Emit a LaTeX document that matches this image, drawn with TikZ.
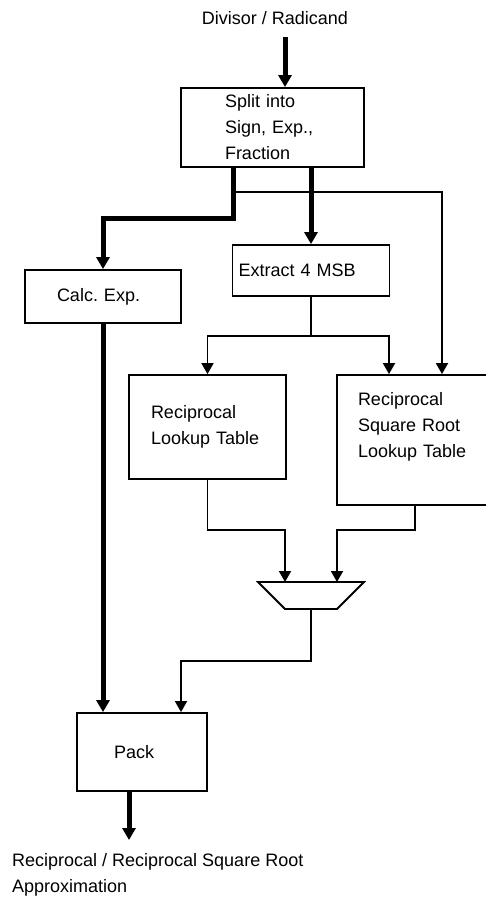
\documentclass[tikz,border=0pt]{standalone}
\usepackage{fontspec}
\setmainfont{Liberation Sans}
\usetikzlibrary{arrows.meta,calc}
\frenchspacing
\begin{document}
\begin{tikzpicture}[x=1pt,y=1pt,
  thinln/.style={line width=1.8pt},
  thickln/.style={line width=5pt},
  tip/.style={-{Triangle[width=12pt,length=11pt]}},
  bigtip/.style={-{Triangle[width=13pt,length=12pt]}},
  box/.style={draw, line width=1.8pt, align=left, inner ysep=0pt, font=\fontsize{18}{26}\selectfont},
  lbl/.style={inner sep=0pt, align=left, font=\fontsize{18}{26}\selectfont}]
\useasboundingbox (0,0) rectangle (486,-900);
\clip (0,0) rectangle (486,-900);
\fill[white] (0,0) rectangle (486,-900);

% texts and boxes
\node[lbl] (in) at (275,-18) {Divisor / Radicand};
\node[box, minimum height=79pt, inner xsep=44pt, text width=95pt] (split) at (272.5,-127.5) {Split into\\Sign, Exp.,\\Fraction};
\node[box, minimum height=51pt, inner xsep=6pt, text width=145pt] (extract) at (311,-270.5) {Extract 4 MSB};
\node[box, minimum height=53pt, inner xsep=32pt, text width=92pt] (calc) at (103,-296.5) {Calc. Exp.};
\node[box, minimum height=104pt, inner xsep=22pt, text width=113pt] (rlut) at (207.5,-427) {Reciprocal\\Lookup Table};
\node[box, minimum height=130pt, inner xsep=21pt, text width=114pt, text depth=82pt] (rsq) at (415,-440) {Reciprocal\\Square Root\\Lookup Table};
\node[box, minimum height=78pt, inner xsep=37pt, text width=56pt] (pack) at (142,-752) {Pack};
\node[lbl, anchor=north west] (out) at (12,-853) {Reciprocal / Reciprocal Square Root\\Approximation};

% multiplexer
\coordinate (mux) at (311,-595.5);
\draw[thinln] ($(mux)+(-53,13.5)$) -- ++(106,0) -- ++(-27,-27) -- ++(-52,0) -- cycle;
\coordinate (muxL) at ($(mux)+(-26,13.5)$);
\coordinate (muxR) at ($(mux)+(26,13.5)$);
\coordinate (muxO) at ($(mux)+(0,-13.5)$);

% junction points
\coordinate (inA) at (285,-37);
\coordinate (j1) at (233.5,-218.5);
\coordinate (j2) at (233.5,-192);
\coordinate (j3) at (311,-336);
\coordinate (j4) at (285,-530);
\coordinate (j5) at (337,-530);
\coordinate (j6) at (181,-661);
\coordinate (outA) at (129,-840);

% connectors
\draw[thickln, bigtip] (inA) -- (inA |- split.north);
\draw[thinln, tip] (j2) -| ([xshift=27pt]rsq.north);
\draw[thickln, bigtip] ([xshift=-39pt]split.south) -- (j1) -| (calc.north);
\draw[thickln, bigtip] ([xshift=38.5pt]split.south) -- (extract.north);
\draw[thinln] (extract.south) -- (j3);
\draw[thinln, tip] (j3) -| (rlut.north);
\draw[thinln, tip] (j3) -| ([xshift=-26pt]rsq.north);
\draw[thinln, tip] (rlut.south) |- (j4) -- (muxL);
\draw[thinln, tip] (rsq.south) |- (j5) -- (muxR);
\draw[thinln, tip] (muxO) |- (j6) -- ([xshift=39pt]pack.north);
\draw[thickln, bigtip] (calc.south) -- ([xshift=-39pt]pack.north);
\draw[thickln, bigtip] ([xshift=-13pt]pack.south) -- (outA);
\end{tikzpicture}
\end{document}
